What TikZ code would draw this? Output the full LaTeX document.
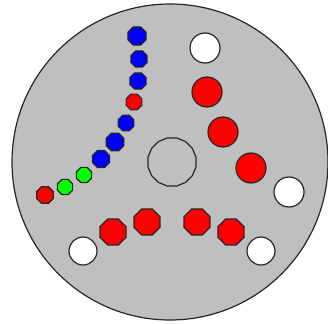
\documentclass[tikz,border=0pt]{standalone}
\usetikzlibrary{shapes.geometric}
\begin{document}
\begin{tikzpicture}[x=0.75pt,y=-0.75pt,
  edge/.style={draw=black!85,line width=0.9pt},
  oct/.style={edge,regular polygon,regular polygon sides=8,inner sep=0pt,minimum size=#1},
  rnd/.style={edge,circle,inner sep=0pt,minimum size=#1},
  bluedot/.style={oct=#1,fill=blue},
  reddot/.style={oct=#1,fill=red},
  greendot/.style={oct=#1,fill=green},
  bigred/.style={rnd=#1,fill=red},
  hole/.style={rnd=#1,fill=white}]
\useasboundingbox (0,0) rectangle (328,324);
\node[edge,circle,fill=black!25,inner sep=0pt,minimum size=316*0.75pt] (disk) at (170,162) {};
\node[edge,regular polygon,regular polygon sides=16,inner sep=0pt,minimum size=49*0.75pt] (hub) at (172,162) {};
% chain
\node[bluedot=19.5*0.75pt] (b1) at (137,36) {};
\node[bluedot=17.5*0.75pt] (b2) at (139,59) {};
\node[bluedot=17.5*0.75pt] (b3) at (138,81) {};
\node[reddot=17*0.75pt] (r4) at (134,102) {};
\node[bluedot=17*0.75pt] (b5) at (126,123) {};
\node[bluedot=19*0.75pt] (b6) at (115,142) {};
\node[bluedot=18.5*0.75pt] (b7) at (101,159) {};
\node[greendot=16.5*0.75pt] (g8) at (84,175) {};
\node[greendot=16.5*0.75pt] (g9) at (65,187) {};
\node[reddot=18*0.75pt] (r10) at (45,195) {};
% right chain
\node[hole=30*0.75pt] (w1) at (205,48) {};
\node[bigred=30*0.75pt] (R1) at (207,92) {};
\node[bigred=30*0.75pt] (R2) at (223,132) {};
\node[bigred=30*0.75pt] (R3) at (251,168) {};
\node[hole=30*0.75pt] (w2) at (289,192) {};
% bottom
\node[hole=28*0.75pt] (w3) at (83,251) {};
\node[reddot=28*0.75pt] (B1) at (113,232) {};
\node[reddot=28*0.75pt] (B2) at (147,222) {};
\node[reddot=28*0.75pt] (B3) at (197,222) {};
\node[reddot=28*0.75pt] (B4) at (231,232) {};
\node[hole=28*0.75pt] (w4) at (261,251) {};
\end{tikzpicture}
\end{document}
